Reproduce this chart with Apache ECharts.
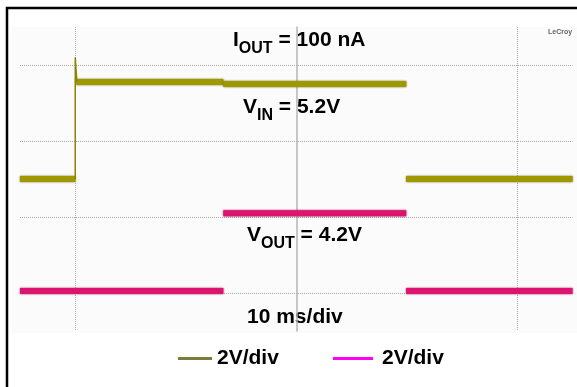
<!DOCTYPE html>
<html>
<head>
<meta charset="utf-8">
<script src="https://cdn.jsdelivr.net/npm/echarts@6/dist/echarts.min.js"></script>
<style>
html, body { margin: 0; padding: 0; background: #fff; overflow: hidden; }
#chart { width: 577px; height: 387px; }
</style>
</head>
<body>
<div id="chart"></div>
<script>
// time in ms from screen centre (10 ms/div), levels in volts (2 V/div)
const timeRange = [-50, 50];
const timeGrid = [-40, 40];
const vinRange = [-8, 8];
const voutRange = [-2, 14];
const voltGrid = [0, 4, 8, 12]; // on the VOUT scale

// [start ms, end ms, volts]
const vinSegments = [
  [-50, -40, 0],
  [-39.8, -13.2, 5.1],
  [-13.2, 19.9, 5.0],
  [19.9, 50, 0]
];
// the fast rising edge with its overshoot
const vinEdge = [[-40, 0], [-40, 6.4], [-39.7, 5.1]];
const voutSegments = [
  [-50, -13.2, 0.1],
  [-13.2, 19.9, 4.2],
  [19.9, 50, 0.1]
];

const FONT = '"Liberation Sans", Arial, sans-serif';
const VIN_COLOR = '#a09800';
const VOUT_COLOR = '#dc1470';

// one flat series per segment, the scope draws no fast edges
function segSeries(name, segs, axis, color, edge) {
  return segs.map(s => ({
    name: name, type: 'line', yAxisIndex: axis,
    symbol: 'none', showSymbol: false,
    lineStyle: { color: color, width: 6, shadowColor: edge, shadowBlur: 2 },
    itemStyle: { color: color },
    data: [[s[0], s[2]], [s[1], s[2]]]
  }));
}

function label(x, y, main, sub, rest) {
  return {
    type: 'text',
    x: x, y: y,
    silent: true,
    style: {
      text: '{m|' + main + '}{s|' + sub + '}{m|' + rest + '}',
      fill: '#000',
      verticalAlign: 'top',
      rich: {
        m: { fontSize: 21, fontWeight: 'bold', fontFamily: FONT, lineHeight: 21, verticalAlign: 'top' },
        s: { fontSize: 16, fontWeight: 'bold', fontFamily: FONT, lineHeight: 27, verticalAlign: 'bottom' }
      }
    }
  };
}

const legendText = { fontSize: 21, fontWeight: 'bold', color: '#000', fontFamily: FONT };

const chart = echarts.init(document.getElementById('chart'));

chart.setOption({
  animation: false,
  backgroundColor: '#fff',
  grid: { left: 20, right: 4.5, top: 27, bottom: 56 },
  xAxis: {
    type: 'value',
    min: timeRange[0], max: timeRange[1],
    axisLine: { show: false },
    axisTick: { show: false, customValues: timeGrid },
    axisLabel: { show: false },
    splitLine: { show: true, lineStyle: { color: '#a8a8a8', type: 'dotted', width: 1 } }
  },
  yAxis: [
    {
      type: 'value',
      min: vinRange[0], max: vinRange[1],
      axisLine: { show: true, onZero: true, lineStyle: { color: '#b4b4b4', width: 1.5 } },
      axisTick: { show: false },
      axisLabel: { show: false },
      splitLine: { show: false }
    },
    {
      type: 'value',
      position: 'right',
      min: voutRange[0], max: voutRange[1],
      axisLine: { show: false },
      axisTick: { show: false, customValues: voltGrid },
      axisLabel: { show: false },
      splitLine: { show: true, lineStyle: { color: '#a8a8a8', type: 'dotted', width: 1 } }
    }
  ],
  legend: [
    {
      left: 173, top: 343,
      icon: 'rect', itemWidth: 34, itemHeight: 3,
      selectedMode: false,
      data: [{ name: 'VIN', itemStyle: { color: '#7d7d3b' } }],
      formatter: () => '2V/div',
      textStyle: legendText
    },
    {
      left: 328, top: 343,
      icon: 'rect', itemWidth: 40, itemHeight: 3,
      selectedMode: false,
      data: [{ name: 'VOUT', itemStyle: { color: '#ff00ff' } }],
      formatter: () => '2V/div',
      textStyle: Object.assign({ padding: [0, 0, 0, 4] }, legendText)
    }
  ],
  graphic: [
    { type: 'rect', z: -10, silent: true, shape: { x: 12, y: 27, width: 565, height: 306 }, style: { fill: '#fbfbfb' } },
    { type: 'polyline', silent: true, shape: { points: [[7, 387], [7, 8], [577, 8]] }, style: { fill: null, stroke: '#000', lineWidth: 2.5 } },
    label(233, 30, 'I', 'OUT', ' = 100 nA'),
    label(243, 97, 'V', 'IN', ' = 5.2V'),
    label(247, 225, 'V', 'OUT', ' = 4.2V'),
    {
      type: 'text', x: 247, y: 307, silent: true,
      style: { text: '10 ms/div', fill: '#000', font: 'bold 21px ' + FONT, verticalAlign: 'top' }
    },
    {
      type: 'text', x: 548, y: 29, silent: true,
      style: { text: 'LeCroy', fill: '#666', font: 'bold 7px ' + FONT }
    }
  ],
  series: [].concat(
    segSeries('VIN', vinSegments, 0, VIN_COLOR, '#5e5900'),
    [{
      name: 'VIN', type: 'line', yAxisIndex: 0,
      symbol: 'none', showSymbol: false,
      lineStyle: { color: '#8a8400', width: 1.5 },
      itemStyle: { color: VIN_COLOR },
      data: vinEdge
    }],
    segSeries('VOUT', voutSegments, 1, VOUT_COLOR, '#8e0c45')
  )
});
</script>
</body>
</html>
